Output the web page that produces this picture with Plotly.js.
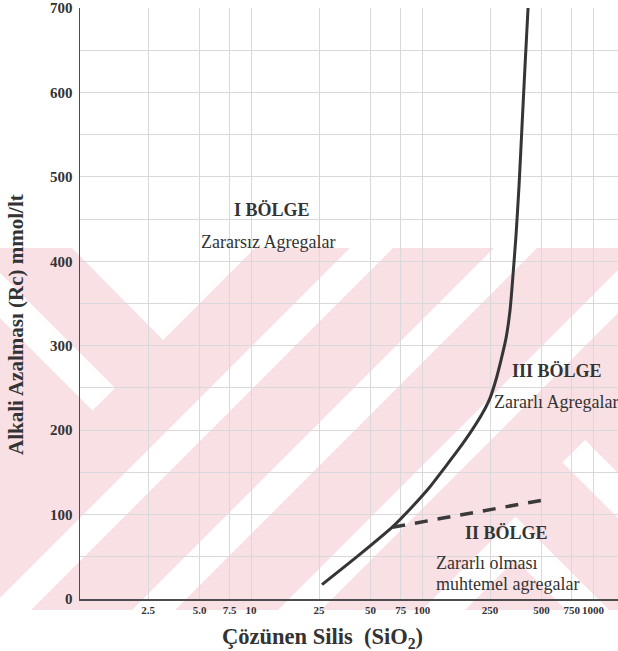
<!DOCTYPE html>
<html>
<head>
<meta charset="utf-8">
<script src="https://cdn.plot.ly/plotly-3.0.1.min.js"></script>
<style>
  html, body { margin: 0; padding: 0; background: #ffffff; }
  #chart { width: 618px; height: 651px; }
</style>
</head>
<body>
<div id="chart"></div>
<script>
// Çözünen silis - alkali azalması ilişkisi (agrega reaktivite bölgeleri)
const silisTicks = [2.5, 5, 7.5, 10, 25, 50, 75, 100, 250, 500, 750, 1000];
const silisTickText = ['2.5', '5.0', '7.5', '10', '25', '50', '75', '100', '250', '500', '750', '1000'];

// Zararlı / zararsız sınır eğrisi
const curveSilis  = [26, 42.2, 67.7, 87.4, 111.4, 136.3, 164.6, 196, 224.3, 249.8, 270.9, 289.7, 309.9, 327.1, 340.5, 354.6, 369.3, 384.5, 400.4, 416.9];
const curveAlkali = [17, 51, 86, 109, 133, 156, 178, 200, 219, 238, 260, 283, 309, 342, 384, 431, 490, 561, 632, 700];

// II. bölge sınırı (kesikli çizgi)
const limitSilis  = [67, 538];
const limitAlkali = [85, 118];

const serif = '"Liberation Serif", "Times New Roman", serif';
const ink = '#333333';

// Sayfa ölçüleri ve kenar boşlukları
const W = 618, H = 651;
const M = { l: 80, r: 0, t: 8, b: 52 };
const pw = W - M.l - M.r, ph = H - M.t - M.b;
const toPx = X => (X - M.l) / pw;
const toPy = Y => (H - M.b - Y) / ph;

// Arka plandaki soluk pembe desen
function poly(pts, color) {
  return {
    type: 'path', xref: 'paper', yref: 'paper', layer: 'below',
    line: { width: 0 }, fillcolor: color,
    path: 'M' + pts.map(p => toPx(p[0]).toFixed(4) + ',' + toPy(p[1]).toFixed(4)).join('L') + 'Z'
  };
}
const pink = '#f9e0e4';
const bgShapes = [
  poly([[0, 248], [618, 248], [618, 610], [0, 610]], pink),
  poly([[72, 248], [255, 248], [163, 340]], '#ffffff'),
  poly([[0, 273], [115, 388], [92.5, 410.5], [0, 318]], '#ffffff'),
  poly([[350, 248], [393, 248], [31, 610], [0, 610], [0, 598]], '#ffffff'),
  poly([[494, 248], [537, 248], [175, 610], [132, 610]], '#ffffff'),
  poly([[618, 270], [618, 313], [321, 610], [278, 610]], '#ffffff'),
  poly([[515.5, 516.5], [422, 610], [465, 610], [515.5, 559.5], [566, 610], [609, 610]], '#ffffff'),
  poly([[585, 440], [618, 473], [618, 518], [562.5, 462.5]], '#ffffff')
];

function note(X, Y, text, bold, anchor, size, angle) {
  return {
    xref: 'paper', yref: 'paper', x: toPx(X), y: toPy(Y),
    xanchor: anchor || 'center', yanchor: 'middle', showarrow: false,
    textangle: angle || 0,
    text: bold ? '<b>' + text + '</b>' : text,
    font: { family: serif, size: size || 18, color: ink }
  };
}

const traces = [
  {
    x: curveSilis, y: curveAlkali, type: 'scatter', mode: 'lines',
    line: { color: '#353535', width: 3, shape: 'spline', smoothing: 0.6 },
    hoverinfo: 'skip', showlegend: false
  },
  {
    x: limitSilis, y: limitAlkali, type: 'scatter', mode: 'lines',
    line: { color: '#3a3a3a', width: 3.5, dash: '13px,10px' },
    hoverinfo: 'skip', showlegend: false
  }
];

const layout = {
  width: W, height: H,
  margin: M,
  paper_bgcolor: '#ffffff',
  plot_bgcolor: 'rgba(0,0,0,0)',
  font: { family: serif, color: ink },
  showlegend: false,
  xaxis: {
    type: 'log',
    range: [0, 3.146],
    tickvals: silisTicks,
    ticktext: silisTickText,
    tickangle: 0,
    tickfont: { family: serif, size: 11, color: ink, weight: 'bold' },
    ticks: '', showgrid: true, gridcolor: '#d9d9d9', gridwidth: 1,
    showline: true, linecolor: '#4d4d4d', linewidth: 1.5,
    zeroline: false
  },
  yaxis: {
    range: [0, 700],
    tickmode: 'linear', tick0: 0, dtick: 100,
    tickfont: { family: serif, size: 15, color: ink, weight: 'bold' },
    ticks: 'outside', ticklen: 3, tickcolor: 'rgba(0,0,0,0)',
    showgrid: true, gridcolor: '#d9d9d9', gridwidth: 1,
    minor: { tick0: 0, dtick: 50, showgrid: true, gridcolor: '#d9d9d9', gridwidth: 1, ticks: '' },
    showline: true, linecolor: '#4d4d4d', linewidth: 1.5,
    zeroline: false
  },
  shapes: bgShapes,
  annotations: [
    // eksen başlıkları
    note(322, 638, 'Çözünen Silis \u00a0(SiO<sub>2</sub>)', true, 'center', 22.5),
    note(16, 325, 'Alkali Azalması (Rc) mmol/lt', true, 'center', 21, -90),
    // bölge etiketleri
    note(272, 210, 'I BÖLGE', true),
    note(268, 242, 'Zararsız Agregalar', false),
    note(557, 371, 'III BÖLGE', true),
    note(492, 402, 'Zararlı Agregalar', false, 'left'),
    note(507, 533, 'II BÖLGE', true),
    note(434, 563, 'Zararlı olması', false, 'left'),
    note(434, 584, 'muhtemel agregalar', false, 'left')
  ]
};

Plotly.newPlot('chart', traces, layout, { displayModeBar: false, staticPlot: true });
</script>
</body>
</html>
